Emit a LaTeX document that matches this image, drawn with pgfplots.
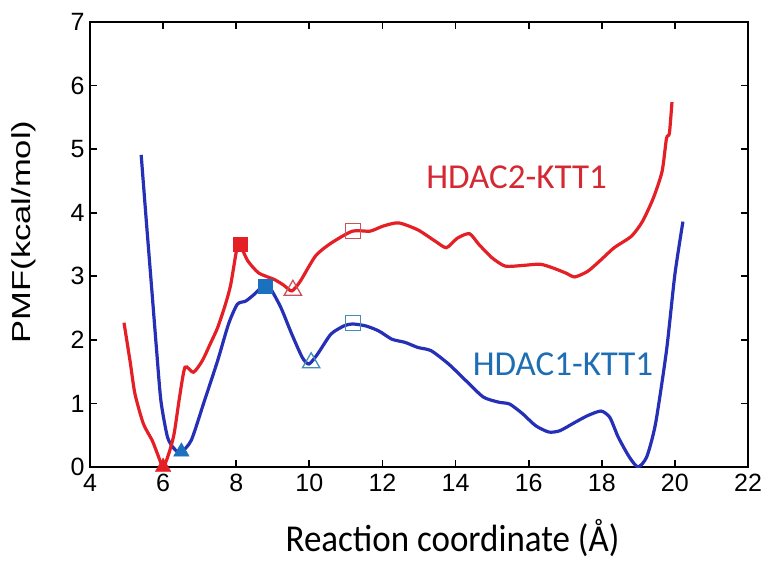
\documentclass[border=0pt]{standalone}
\usepackage{fontspec}
\setmainfont{Liberation Sans}
\newfontfamily\calibri{Carlito}
\usepackage{pgfplots}
\pgfplotsset{compat=1.18}

\definecolor{redline}{RGB}{228,32,38}
\definecolor{blueline}{RGB}{38,48,182}
\definecolor{redtext}{RGB}{212,40,50}
\definecolor{bluetext}{RGB}{30,110,180}
\definecolor{bluemark}{RGB}{28,112,192}
\definecolor{redopen}{RGB}{205,80,90}
\definecolor{blueopen}{RGB}{70,140,182}

\begin{document}
\begin{tikzpicture}
\begin{axis}[
    scale only axis,
    width=658bp, height=445bp,
    xmin=4, xmax=22, ymin=0, ymax=7,
    xtick={4,6,...,22}, ytick={0,1,...,7},
    tick align=inside,
    major tick length=7bp,
    axis line style={line width=2.4bp},
    tick style={line width=1.8bp, black},
    /pgf/number format/assume math mode=true,
    ticklabel style={font=\fontsize{25bp}{30bp}\selectfont},
    xticklabel style={yshift=-4bp},
    yticklabel style={xshift=-2bp},
    xlabel={Reaction coordinate (Å)},
    xlabel style={font=\calibri\fontsize{38bp}{44bp}\selectfont, xscale=0.92,
        at={(axis description cs:0.551,-0.191)}, anchor=base},
    ylabel={PMF(kcal/mol)},
    ylabel style={font=\fontsize{26bp}{30bp}\selectfont, xscale=1.33,
        at={(axis description cs:-0.1,0.528)}, anchor=center},
    clip mode=individual,
]
% HDAC1-KTT1
\addplot[blueline, line width=3.2bp, smooth, tension=0.4] table {
5.40 4.91
5.55 3.80
5.70 2.72
5.82 1.85
5.94 1.04
6.12 0.47
6.30 0.29
6.48 0.23
6.77 0.42
7.13 1.04
7.49 1.67
7.79 2.25
8.03 2.56
8.26 2.61
8.50 2.72
8.74 2.85
8.92 2.82
9.22 2.51
9.52 2.09
9.81 1.72
9.99 1.62
10.23 1.78
10.59 2.09
10.95 2.22
11.18 2.25
11.54 2.22
11.90 2.14
12.26 2.01
12.62 1.96
12.97 1.88
13.33 1.83
13.81 1.62
14.28 1.36
14.76 1.10
15.18 1.02
15.48 0.99
15.83 0.84
16.19 0.65
16.55 0.55
16.85 0.57
17.26 0.70
17.62 0.81
17.98 0.88
18.22 0.78
18.45 0.47
18.75 0.16
18.99 0.00
19.23 0.16
19.47 0.68
19.77 1.83
20.00 3.03
20.22 3.86
};
% HDAC2-KTT1
\addplot[redline, line width=3.2bp, smooth, tension=0.4] table {
4.93 2.27
5.10 1.65
5.23 1.15
5.46 0.68
5.70 0.42
5.85 0.20
6.00 0.00
6.15 0.20
6.30 0.52
6.45 1.10
6.60 1.57
6.83 1.49
7.07 1.67
7.30 1.95
7.49 2.19
7.70 2.55
7.85 2.87
8.03 3.48
8.10 3.50
8.32 3.24
8.62 3.05
9.04 2.95
9.30 2.86
9.52 2.77
9.75 2.92
10.17 3.32
10.59 3.52
11.18 3.71
11.66 3.71
12.02 3.79
12.44 3.84
12.97 3.73
13.45 3.55
13.75 3.45
14.05 3.60
14.38 3.67
14.64 3.50
15.00 3.29
15.36 3.16
15.83 3.17
16.31 3.19
16.67 3.13
17.02 3.05
17.26 2.99
17.62 3.08
17.98 3.26
18.34 3.45
18.81 3.63
19.11 3.86
19.41 4.23
19.65 4.65
19.77 5.17
19.85 5.25
19.92 5.74
};
% markers
\addplot[only marks, mark=triangle*, mark size=9bp, color=redline] coordinates {(6.0,0.0)};
\addplot[only marks, mark=square*, mark size=7bp, color=redline] coordinates {(8.1,3.5)};
\addplot[only marks, mark=triangle, mark size=10bp, color=redopen, line width=1.3bp] coordinates {(9.55,2.78)};
\addplot[only marks, mark=square, mark size=7.5bp, color=redopen, line width=1.3bp] coordinates {(11.2,3.71)};
\addplot[only marks, mark=triangle*, mark size=9bp, color=bluemark] coordinates {(6.5,0.24)};
\addplot[only marks, mark=square*, mark size=7bp, color=bluemark] coordinates {(8.8,2.85)};
\addplot[only marks, mark=triangle, mark size=10bp, color=blueopen, line width=1.3bp] coordinates {(10.05,1.64)};
\addplot[only marks, mark=square, mark size=7.5bp, color=blueopen, line width=1.3bp] coordinates {(11.2,2.27)};

\node[redtext, font=\calibri\fontsize{35bp}{40bp}\selectfont] at (axis cs:15.67,4.56) {HDAC2-KTT1};
\node[bluetext, font=\calibri\fontsize{35bp}{40bp}\selectfont] at (axis cs:16.94,1.62) {HDAC1-KTT1};
\end{axis}
\path ([xshift=-90bp,yshift=-95bp]current axis.south west) rectangle ([xshift=20bp,yshift=22bp]current axis.north east);
\end{tikzpicture}
\end{document}
